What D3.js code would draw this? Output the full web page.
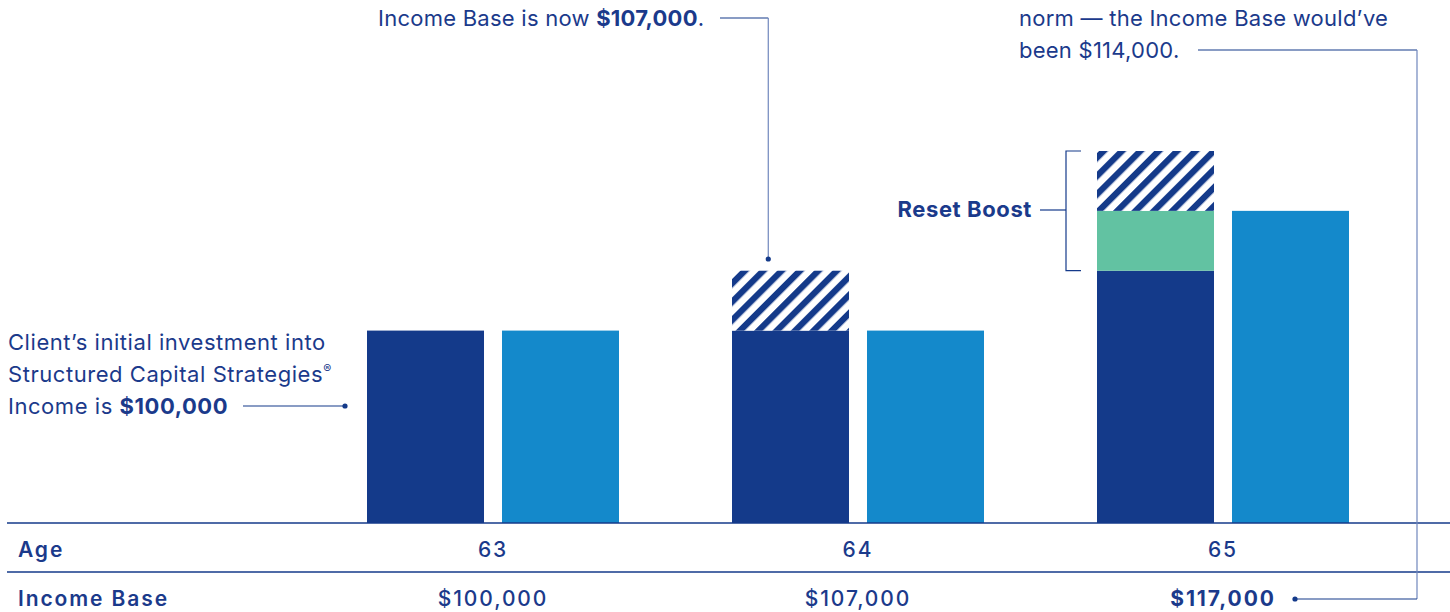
<!DOCTYPE html>
<html>
<head>
<meta charset="utf-8">
<script src="https://cdn.jsdelivr.net/npm/d3@7"></script>
<style>
  body { margin: 0; background: #fff; }
  svg text { font-family: Inter, Roboto, "Liberation Sans", sans-serif; fill: #1b3a8b; }
  .note { font-size: 22px; letter-spacing: 0.25px; }
  .note.left { letter-spacing: 0.55px; }
  .tbl { font-size: 21px; letter-spacing: 1.9px; }
</style>
</head>
<body>
<div id="chart"></div>
<script>
// ages and the income base row
var ages = ["63", "64", "65"];
var incomeBaseLabels = ["$100,000", "$107,000", "$117,000"];

// bar values, in $ thousands
var baseValues = [100, 100, 107];     // dark navy bar
var boostValues = [0, 0, 7];          // green reset boost
var hatchValues = [0, 7, 7];          // hatched growth on top
var compareValues = [100, 100, 114];  // light blue bar

var width = 1450, height = 612;
var navy = "#143a8a", lightBlue = "#1489cb", green = "#62c2a2";

var svg = d3.select("#chart").append("svg")
    .attr("width", width)
    .attr("height", height);

var defs = svg.append("defs");
var pat = defs.append("pattern")
    .attr("id", "hatch")
    .attr("patternUnits", "userSpaceOnUse")
    .attr("width", 13)
    .attr("height", 13)
    .attr("patternTransform", "rotate(45)");
pat.append("rect").attr("width", 13).attr("height", 13).attr("fill", "#fff");
pat.append("rect").attr("width", 6.3).attr("height", 13).attr("fill", navy);

var x = d3.scaleBand()
    .domain(ages)
    .range([310.5, 1405.5]);

var x1 = d3.scaleBand()
    .domain(["main", "compare"])
    .range([56.5, 308.5])
    .paddingInner(0.1333);

// chart is cut at the baseline, not at zero
var y = d3.scaleLinear()
    .domain([77.5, 121])
    .range([523, 151]);

var segs = [];
ages.forEach(function (a, i) {
    var b = baseValues[i];
    segs.push({age: a, y0: y.domain()[0], y1: b, fill: navy});
    if (boostValues[i] > 0) {
        segs.push({age: a, y0: b, y1: b + boostValues[i], fill: green});
        b = b + boostValues[i];
    }
    if (hatchValues[i] > 0) {
        segs.push({age: a, y0: b, y1: b + hatchValues[i], fill: "url(#hatch)"});
    }
});

svg.selectAll(".seg")
    .data(segs)
    .enter()
    .append("rect")
    .attr("class", "seg")
    .attr("x", function (d) { return x(d.age) + x1("main"); })
    .attr("width", x1.bandwidth())
    .attr("y", function (d) { return y(d.y1); })
    .attr("height", function (d) { return y(d.y0) - y(d.y1); })
    .attr("fill", function (d) { return d.fill; });

svg.selectAll(".cmp")
    .data(ages)
    .enter()
    .append("rect")
    .attr("class", "cmp")
    .attr("x", function (d) { return x(d) + x1("compare"); })
    .attr("width", x1.bandwidth())
    .attr("y", function (d, i) { return y(compareValues[i]); })
    .attr("height", function (d, i) { return y.range()[0] - y(compareValues[i]); })
    .attr("fill", lightBlue);

// table lines
[523, 572].forEach(function (ly) {
    svg.append("line")
        .attr("x1", 7).attr("x2", width)
        .attr("y1", ly).attr("y2", ly)
        .attr("stroke", navy)
        .attr("stroke-width", 1.6);
});

svg.append("text")
    .attr("class", "tbl")
    .attr("x", 18).attr("y", 557)
    .style("font-weight", 600)
    .text("Age");
svg.append("text")
    .attr("class", "tbl")
    .attr("x", 18).attr("y", 606)
    .style("font-weight", 600)
    .text("Income Base");

svg.selectAll(".age")
    .data(ages)
    .enter()
    .append("text")
    .attr("class", "tbl")
    .attr("x", function (d) { return x(d) + x.bandwidth() / 2; })
    .attr("y", 557)
    .attr("text-anchor", "middle")
    .style("font-weight", 500)
    .text(function (d) { return d; });

svg.selectAll(".ib")
    .data(incomeBaseLabels)
    .enter()
    .append("text")
    .attr("class", "tbl")
    .attr("x", function (d, i) { return x(ages[i]) + x.bandwidth() / 2; })
    .attr("y", 606)
    .attr("text-anchor", "middle")
    .style("font-weight", function (d, i) { return i === 2 ? 700 : 500; })
    .text(function (d) { return d; });

// annotations
var ann = svg.append("g");
function line(pts, col) {
    ann.append("path")
        .attr("d", d3.line()(pts))
        .attr("fill", "none")
        .attr("stroke", col || navy)
        .attr("stroke-width", 1.2);
}
function dot(cx, cy) {
    ann.append("circle").attr("cx", cx).attr("cy", cy).attr("r", 2.6).attr("fill", navy);
}

// left note
var leftLines = ["Client\u2019s initial investment into", "Structured Capital Strategies"];
leftLines.forEach(function (t, i) {
    var tx = ann.append("text")
        .attr("class", "note left")
        .attr("x", 8).attr("y", 350 + i * 32)
        .text(t);
    if (i === 1) {
        tx.append("tspan").attr("dy", -9).style("font-size", "12px").text("\u00ae");
    }
});
var l3 = ann.append("text").attr("class", "note left").attr("x", 8).attr("y", 414);
l3.append("tspan").text("Income is ");
l3.append("tspan").style("font-weight", 700).text("$100,000");
line([[243, 406], [345, 406]]);
dot(345, 406);

// middle note
var t2 = ann.append("text").attr("class", "note").attr("x", 378).attr("y", 26);
t2.append("tspan").text("Income Base is now ");
t2.append("tspan").style("font-weight", 700).text("$107,000");
t2.append("tspan").text(".");
var mx = x("64") + x1("main") + x1.bandwidth() * 0.31;
line([[720, 18], [mx, 18]]);
line([[mx, 18], [mx, 259]], "#6f86bd");
dot(mx, 259);

// right note
ann.append("text").attr("class", "note").attr("x", 1019).attr("y", 26)
    .text("norm \u2014 the Income Base would\u2019ve");
ann.append("text").attr("class", "note").attr("x", 1019).attr("y", 58)
    .text("been $114,000.");
line([[1198, 50], [1417, 50]]);
line([[1417, 50], [1417, 599]], "#6f86bd");
line([[1417, 599], [1295, 599]]);
dot(1295, 599);

// reset boost bracket
var bx = x("65") + x1("main");
ann.append("path")
    .attr("d", d3.line()([[bx - 16, y(121)], [bx - 31, y(121)], [bx - 31, y(107)], [bx - 16, y(107)]]))
    .attr("fill", "none").attr("stroke", navy).attr("stroke-width", 1.2);
line([[1040, 210], [bx - 31, 210]]);
ann.append("text").attr("x", 1032).attr("y", 217)
    .attr("text-anchor", "end")
    .style("font-size", "22px").style("font-weight", 700).style("letter-spacing", "0.6px")
    .text("Reset Boost");
</script>
</body>
</html>
